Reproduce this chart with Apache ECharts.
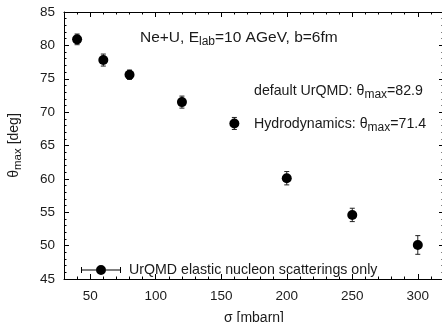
<!DOCTYPE html>
<html>
<head>
<meta charset="utf-8">
<script src="https://cdn.jsdelivr.net/npm/echarts@6/dist/echarts.min.js"></script>
<style>
html,body{margin:0;padding:0;background:#fff;}
#chart{width:442px;height:322px;}
</style>
</head>
<body>
<div id="chart"></div>
<script>
// Data
var sigma = [40, 60, 80, 120, 160, 200, 250, 300];
var thetaMax = [80.9, 77.8, 75.6, 71.5, 68.3, 60.1, 54.6, 50.1];
var thetaErr = [0.8, 0.9, 0.7, 0.9, 0.9, 1.0, 1.0, 1.4];
var xMajorTicks = [50, 100, 150, 200, 250, 300];
var seriesName = 'UrQMD elastic nucleon scatterings only';

var FONT = '"Liberation Sans", Arial, Helvetica, sans-serif';
var TXT = '#1a1a1a';

var points = sigma.map(function (s, i) { return [s, thetaMax[i]]; });
var bars = sigma.map(function (s, i) { return [s, thetaMax[i] - thetaErr[i], thetaMax[i] + thetaErr[i]]; });

var chart = echarts.init(document.getElementById('chart'), null, {renderer: 'canvas'});

function xAx(pos, major, labels) {
  var a = {
    type: 'value', min: 30, max: 320, position: pos,
    axisLine: {show: !major, onZero: false, lineStyle: {color: '#000', width: 1}},
    splitLine: {show: false},
    axisLabel: {show: false}
  };
  if (major) {
    a.axisTick = {show: true, inside: true, length: 5, customValues: xMajorTicks, lineStyle: {color: '#000'}};
  } else {
    a.interval = 10;
    a.axisTick = {show: true, inside: true, length: 2.5, lineStyle: {color: '#000'}};
  }
  if (labels) {
    a.axisLabel = {show: true, customValues: xMajorTicks, margin: 10, color: TXT, fontSize: 13.5, fontFamily: FONT};
    a.name = 'σ [mbarn]';
    a.nameLocation = 'middle';
    a.nameGap = 32;
    a.nameTextStyle = {color: TXT, fontSize: 14, fontFamily: FONT};
  }
  return a;
}

function yAx(pos, labels) {
  var a = {
    type: 'value', min: 45, max: 85, interval: 5, position: pos,
    axisLine: {show: true, onZero: false, lineStyle: {color: '#000', width: 1}},
    axisTick: {show: true, inside: true, length: 5, lineStyle: {color: '#000'}},
    minorTick: {show: true, splitNumber: 5, length: 2.5, lineStyle: {color: '#000'}},
    splitLine: {show: false},
    axisLabel: {show: labels, margin: 9, color: TXT, fontSize: 13.5, fontFamily: FONT}
  };
  if (labels) {
    a.name = '{t|θ}{s|max}{t| [deg]}';
    a.nameLocation = 'middle';
    a.nameGap = 40;
    a.nameRotate = 90;
    a.nameTextStyle = {
      color: TXT, fontFamily: FONT,
      rich: {
        t: {fontSize: 14, fontFamily: FONT, color: TXT},
        s: {fontSize: 11.5, fontFamily: FONT, color: TXT, verticalAlign: 'bottom', padding: [7, 0, 0, 0]}
      }
    };
  }
  return a;
}

function richAnno(main, sub) {
  return {
    t: {fontSize: main, fontFamily: FONT, fill: TXT},
    s: {fontSize: sub, fontFamily: FONT, fill: TXT, padding: [8, 0, 0, 0]}
  };
}

var legendIcon = 'path://M0,4.5H15V5.5H0Z M25,4.5H40V5.5H25Z M0,2H1V8H0Z M39,2H40V8H39Z M15,5A5,5,0,1,0,25,5A5,5,0,1,0,15,5Z';

chart.setOption({
  animation: false,
  backgroundColor: '#fff',
  grid: {left: 64, top: 12, width: 380, height: 267, containLabel: false, outerBoundsMode: 'none'},
  xAxis: [xAx('bottom', false, true), xAx('bottom', true, false), xAx('top', false, false), xAx('top', true, false)],
  yAxis: [yAx('left', true), yAx('right', false)],
  legend: {
    data: [{name: seriesName, icon: legendIcon, itemStyle: {color: '#000'}}],
    left: 81, top: 263,
    itemWidth: 40, itemHeight: 10, itemGap: 0,
    selectedMode: false,
    itemStyle: {color: '#000', opacity: 1},
    textStyle: {color: TXT, fontSize: 14.2, fontFamily: FONT, padding: [0, 0, 0, 3]},
    padding: 0
  },
  graphic: [
    {type: 'text', left: 140, top: 30, style: {text: '{t|Ne+U, E}{s|lab}{t|=10 AGeV, b=6fm}', rich: richAnno(15.5, 12), fill: TXT}},
    {type: 'text', left: 254, top: 84, style: {text: '{t|default UrQMD: θ}{s|max}{t|=82.9}', rich: richAnno(14.2, 12), fill: TXT}},
    {type: 'text', left: 254, top: 117, style: {text: '{t|Hydrodynamics: θ}{s|max}{t|=71.4}', rich: richAnno(14.2, 12), fill: TXT}}
  ],
  series: [
    {
      type: 'custom', name: seriesName, xAxisIndex: 0, yAxisIndex: 0, silent: true, z: 2,
      itemStyle: {color: '#000'},
      data: bars,
      renderItem: function (params, api) {
        var x = api.value(0);
        var p1 = api.coord([x, api.value(2)]);
        var p2 = api.coord([x, api.value(1)]);
        var w = 2.5, st = {stroke: '#222', lineWidth: 1};
        return {type: 'group', children: [
          {type: 'line', shape: {x1: p1[0], y1: p1[1], x2: p2[0], y2: p2[1]}, style: st},
          {type: 'line', shape: {x1: p1[0] - w, y1: p1[1], x2: p1[0] + w, y2: p1[1]}, style: st},
          {type: 'line', shape: {x1: p2[0] - w, y1: p2[1], x2: p2[0] + w, y2: p2[1]}, style: st}
        ]};
      }
    },
    {
      type: 'scatter', name: seriesName, xAxisIndex: 0, yAxisIndex: 0, z: 3,
      data: points, symbol: 'circle', symbolSize: 10,
      itemStyle: {color: '#000', opacity: 1}
    }
  ]
});
</script>
</body>
</html>
